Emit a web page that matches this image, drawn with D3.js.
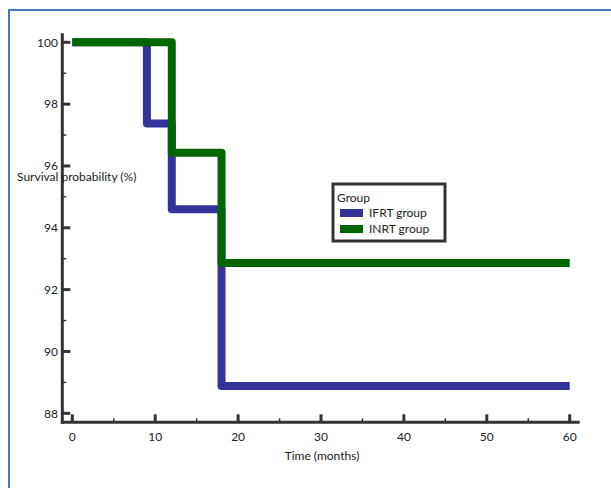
<!DOCTYPE html>
<html><head><meta charset="utf-8">
<script src="https://cdn.jsdelivr.net/npm/d3@7"></script>
<style>body{margin:0;background:#fff}text{font-family:Lato,"Open Sans",sans-serif;fill:#222}</style>
</head><body><svg id="c" width="611" height="488"></svg>
<script>
const seriesNames = ["IFRT group", "INRT group"];
const colors = ["#333399", "#006600"];
const ifrtTime = [0, 9, 12, 18, 60];
const ifrtSurv = [100, 97.37, 94.6, 88.88, 88.88];
const inrtTime = [0, 12, 18, 60];
const inrtSurv = [100, 96.43, 92.86, 92.86];
const xTicks = [0, 10, 20, 30, 40, 50, 60];
const xMinor = [5, 15, 25, 35, 45, 55];
const yTicks = [88, 90, 92, 94, 96, 98, 100];
const yMinor = [89, 91, 93, 95, 97, 99];

const svg = d3.select("#c");
svg.append("rect").attr("x", 9).attr("y", 10).attr("width", 700).attr("height", 600)
  .attr("fill", "none").attr("stroke", "#4a76c8").attr("stroke-width", 2);

const x = d3.scaleLinear().domain([0, 60]).range([72.3, 569.7]);
const y = d3.scaleLinear().domain([88, 100]).range([413.3, 42.3]);
const ax = "#333";
const axX = x(0) - 10, axY = y(88) + 9;

// axes lines
svg.append("line").attr("x1", axX).attr("x2", axX).attr("y1", y(100) - 9).attr("y2", axY + 1.5)
  .attr("stroke", ax).attr("stroke-width", 3);
svg.append("line").attr("x1", axX - 1.5).attr("x2", x(60) + 10).attr("y1", axY).attr("y2", axY)
  .attr("stroke", ax).attr("stroke-width", 3);

// y ticks
yTicks.forEach(v => {
  svg.append("line").attr("x1", axX).attr("x2", axX + 8).attr("y1", y(v)).attr("y2", y(v))
    .attr("stroke", ax).attr("stroke-width", 3);
  svg.append("text").attr("x", 58).attr("y", y(v)).attr("dy", "0.35em").attr("text-anchor", "end")
    .attr("font-size", 12).text(v);
});
yMinor.forEach(v => {
  svg.append("line").attr("x1", axX).attr("x2", axX + 4).attr("y1", y(v)).attr("y2", y(v))
    .attr("stroke", ax).attr("stroke-width", 1.5);
});
// x ticks
xTicks.forEach(v => {
  svg.append("line").attr("x1", x(v)).attr("x2", x(v)).attr("y1", axY).attr("y2", axY - 8)
    .attr("stroke", ax).attr("stroke-width", 3);
  svg.append("text").attr("x", x(v)).attr("y", 441).attr("text-anchor", "middle")
    .attr("font-size", 12).text(v);
});
xMinor.forEach(v => {
  svg.append("line").attr("x1", x(v)).attr("x2", x(v)).attr("y1", axY).attr("y2", axY - 4)
    .attr("stroke", ax).attr("stroke-width", 1.5);
});

svg.append("text").attr("x", 322).attr("y", 460).attr("text-anchor", "middle")
  .attr("font-size", 12).text("Time (months)");
svg.append("text").attr("x", 17).attr("y", 181)
  .attr("font-size", 12).text("Survival probability (%)");

const line = d3.line().x(d => x(d[0])).y(d => y(d[1])).curve(d3.curveStepAfter);
const series = [d3.zip(ifrtTime, ifrtSurv), d3.zip(inrtTime, inrtSurv)];
series.forEach((s, i) => {
  svg.append("path").attr("d", line(s)).attr("fill", "none").attr("stroke", colors[i])
    .attr("stroke-width", 8).attr("stroke-linejoin", "round").attr("stroke-linecap", "butt");
});

// legend
const lg = svg.append("g");
lg.append("rect").attr("x", 333).attr("y", 184).attr("width", 112).attr("height", 57)
  .attr("fill", "#fff").attr("stroke", "#333").attr("stroke-width", 3);
lg.append("text").attr("x", 337).attr("y", 202).attr("font-size", 12).text("Group");
seriesNames.forEach((n, i) => {
  lg.append("rect").attr("x", 340).attr("y", 209 + i * 16).attr("width", 23).attr("height", 8)
    .attr("fill", colors[i]);
  lg.append("text").attr("x", 369).attr("y", 213 + i * 16).attr("dy", "0.35em")
    .attr("font-size", 12).text(n);
});
</script></body></html>
